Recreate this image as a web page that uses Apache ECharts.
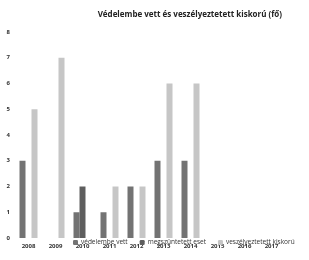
<!DOCTYPE html>
<html>
<head>
<meta charset="utf-8">
<script src="https://cdn.jsdelivr.net/npm/echarts@6/dist/echarts.min.js"></script>
<style>
  html, body { margin: 0; padding: 0; background: #fff; }
  #main { width: 309px; height: 260px; }
</style>
</head>
<body>
<div id="main"></div>
<script>
// adatok
var evek = ['2008', '2009', '2010', '2011', '2012', '2013', '2014', '2015', '2016', '2017'];
var vedelembeVett = [3, 0, 1, 1, 2, 3, 3, 0, 0, 0];
var megszuntetett = [0, 0, 2, 0, 0, 0, 0, 0, 0, 0];
var veszelyeztetett = [5, 7, 0, 2, 2, 6, 6, 0, 0, 0];

var myChart = echarts.init(document.getElementById('main'));

var option = {
    animation: false,
    textStyle: { fontFamily: 'Open Sans' },
    title: {
        text: 'Védelembe vett és veszélyeztetett kiskorú (fő)',
        right: 22,
        top: 6,
        textStyle: { fontSize: 8, fontWeight: 'bold', color: '#222' }
    },
    legend: {
        data: ['védelembe vett', 'megszüntetett eset', 'veszélyeztetett kiskorú'],
        left: 73,
        top: 239,
        width: 236,
        padding: 0,
        itemWidth: 5,
        itemHeight: 5,
        itemGap: 12,
        textStyle: { fontSize: 6.5, color: '#333', padding: [0, 0, 0, -2] }
    },
    grid: { left: 15, right: 24, top: 32, bottom: 22 },
    xAxis: {
        type: 'category',
        data: evek,
        axisLine: { show: false },
        axisTick: { show: false },
        axisLabel: { fontSize: 6, color: '#333', fontWeight: 'bold', margin: 5 }
    },
    yAxis: {
        type: 'value',
        min: 0,
        max: 8,
        interval: 1,
        splitLine: { show: false },
        axisLine: { show: false },
        axisTick: { show: false },
        axisLabel: { fontSize: 6, color: '#333', fontWeight: 'bold', margin: 5 }
    },
    series: [
        {
            name: 'védelembe vett',
            type: 'bar',
            barWidth: 6,
            barGap: '0%',
            itemStyle: { color: '#737373' },
            data: vedelembeVett
        },
        {
            name: 'megszüntetett eset',
            type: 'bar',
            barWidth: 6,
            itemStyle: { color: '#5e5e5e' },
            data: megszuntetett
        },
        {
            name: 'veszélyeztetett kiskorú',
            type: 'bar',
            barWidth: 6,
            itemStyle: { color: '#c6c6c6' },
            data: veszelyeztetett
        }
    ]
};

myChart.setOption(option);
</script>
</body>
</html>
